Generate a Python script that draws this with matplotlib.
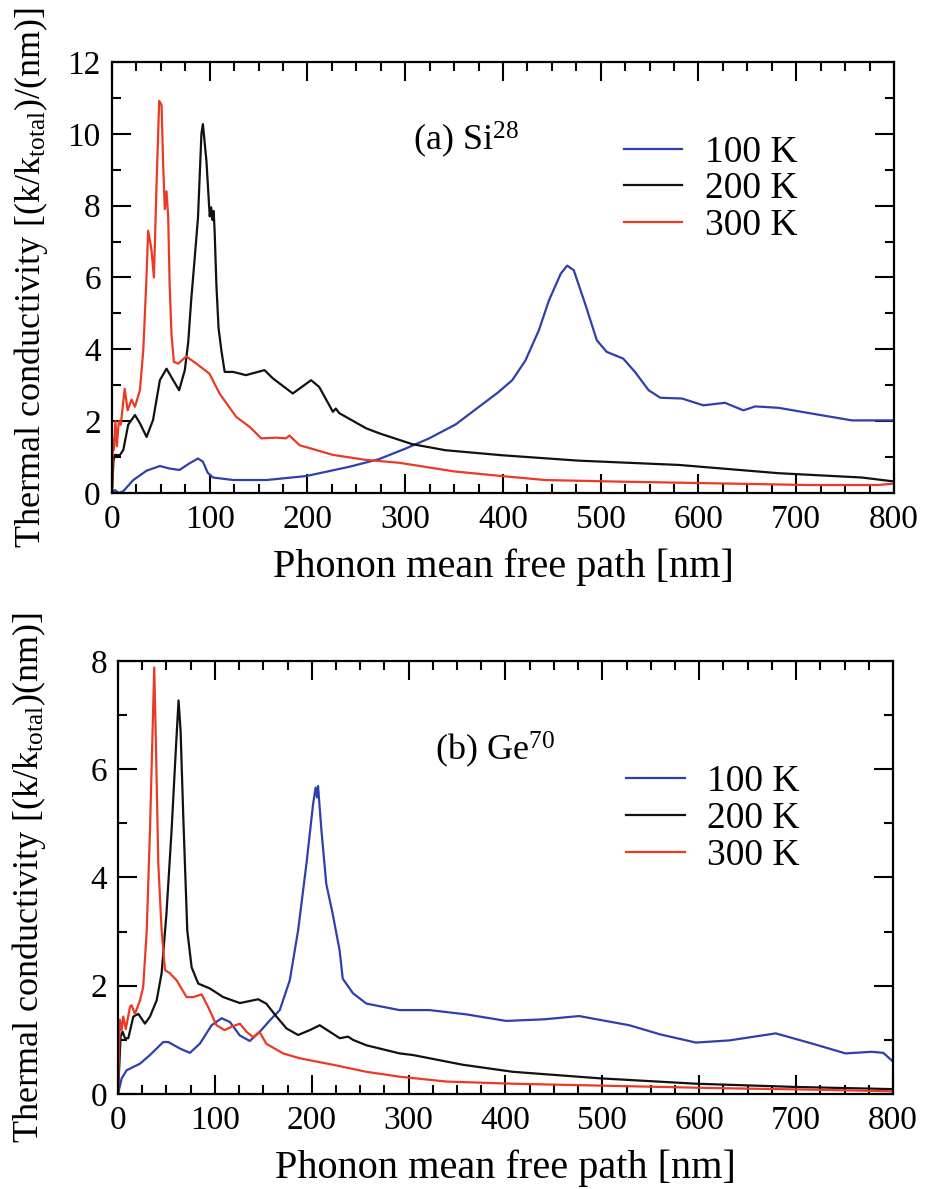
import matplotlib
matplotlib.use("Agg")
import matplotlib.pyplot as plt
from matplotlib.ticker import MultipleLocator

plt.rcParams['font.family'] = ['Liberation Serif', 'DejaVu Serif']
plt.rcParams['mathtext.fontset'] = 'custom'
plt.rcParams['mathtext.rm'] = 'Liberation Serif'
plt.rcParams['mathtext.it'] = 'Liberation Serif:italic'

BLUE = '#2f3fae'
BLACK = '#111111'
RED = '#ea3a24'

# ---- panel (a) Si28 ----
si_100_x = [0, 3, 7, 11.6, 21.8, 35.4, 49, 59, 69, 79, 88, 93, 98, 103.4, 124, 158, 198.6, 243,
            273, 300.7, 324.5, 351.7, 375.5, 395, 409.5, 423, 436.7, 447, 459, 465.6, 472.4, 484, 496,
            506, 523, 535, 549, 561, 583, 605, 627, 646, 658, 682, 716, 757, 800]
si_100_y = [0, 0.08, 0.0, 0.05, 0.36, 0.62, 0.75, 0.68, 0.64, 0.82, 0.96, 0.87, 0.56, 0.43, 0.36, 0.36, 0.47, 0.73,
            0.94, 1.24, 1.52, 1.91, 2.4, 2.8, 3.14, 3.69, 4.53, 5.36, 6.1, 6.33, 6.2, 5.27, 4.25,
            3.93, 3.74, 3.37, 2.86, 2.65, 2.63, 2.44, 2.51, 2.3, 2.41, 2.37, 2.21, 2.02, 2.02]

si_200_x = [0, 1.5, 3, 8, 11.6, 16.6, 23.5, 28.6, 35.4, 42, 49, 55.8, 62.6, 68.7, 74.5, 78, 81, 84.5, 88, 91.5,
            93, 96.6, 100, 101.5, 102.7, 104, 105, 106.8, 109, 111.9, 115.3, 124, 137, 156, 164.6, 185, 203.7,
            212, 226, 229, 232.6, 260, 273.5, 307, 341, 399, 477, 580, 682, 767, 800]
si_200_y = [0, 0.9, 1.06, 1.05, 1.2, 1.9, 2.17, 1.94, 1.56, 2.03, 3.14, 3.46, 3.14, 2.86, 3.42, 4.2, 5.36, 6.5, 7.67, 10.0,
            10.27, 9.25, 7.7, 7.95, 7.6, 7.85, 7.3, 5.8, 4.6, 3.97, 3.37, 3.37, 3.28, 3.42, 3.19, 2.77, 3.14,
            2.95, 2.26, 2.35, 2.22, 1.8, 1.66, 1.36, 1.19, 1.05, 0.9, 0.78, 0.55, 0.43, 0.32]

si_300_x = [0, 1, 2, 3.5, 5, 7, 9, 13, 16, 20, 23.5, 28.6, 32, 35, 37, 39, 40.5, 42.9, 45.6, 48.3,
            50.7, 52.4, 54, 55.8, 57.5, 59, 60.9, 63.3, 67.7, 76, 86.4, 99.7, 110, 127, 140.8, 152.7,
            168, 178, 181.6, 191.8, 226, 260, 294, 350, 399, 443, 511, 613, 715, 783, 800]
si_300_y = [0, 1.5, 1.2, 2.0, 1.3, 2.0, 1.9, 2.9, 2.3, 2.6, 2.4, 2.86, 3.97, 5.8, 7.3, 7.0, 6.75, 6.0, 8.6, 10.92,
            10.8, 9.1, 7.9, 8.4, 7.7, 5.8, 4.4, 3.65, 3.6, 3.8, 3.6, 3.32, 2.77, 2.12, 1.84, 1.52,
            1.54, 1.52, 1.6, 1.33, 1.06, 0.92, 0.84, 0.6, 0.47, 0.36, 0.32, 0.27, 0.22, 0.22, 0.26]

# ---- panel (b) Ge70 ----
ge_100_x = [0, 3.8, 9, 22.7, 33, 46.7, 51.9, 63.9, 74.2, 84.5, 96.6, 106.9, 115.5, 125.8, 136, 146.4,
            156.7, 167, 177.3, 185.9, 194.5, 201.4, 204, 205.5, 206.5, 210, 215, 221.6, 228.8, 232,
            242.6, 256.4, 290.7, 321.6, 360, 400.7, 440, 476, 527.8, 560, 596.6, 631, 679, 716.8, 751,
            778.4, 790, 800]
ge_100_y = [0, 0.29, 0.44, 0.56, 0.72, 0.96, 0.96, 0.84, 0.76, 0.93, 1.27, 1.4, 1.33, 1.08, 0.98, 1.15,
            1.36, 1.55, 2.1, 3.02, 4.25, 5.36, 5.66, 5.48, 5.69, 4.87, 3.88, 3.33, 2.65, 2.13,
            1.86, 1.67, 1.55, 1.55, 1.47, 1.35, 1.38, 1.44, 1.27, 1.1, 0.95, 0.99, 1.12, 0.93, 0.75,
            0.78, 0.76, 0.6]

ge_200_x = [0, 2.7, 4.8, 7.2, 10.6, 15.8, 21, 27.8, 33, 39.9, 45, 50, 55.3, 59.8, 62.5, 64.6, 67.4, 71.5,
            76, 82.8, 94.8, 108.6, 125.8, 144.7, 153, 163.6, 174, 185.9, 198, 208.2, 218.6, 229,
            237.5, 242.6, 256.4, 290.7, 304.5, 356, 407.6, 497, 596.6, 699.7, 800]
ge_200_y = [0, 1.06, 1.15, 1.03, 1.03, 1.43, 1.48, 1.3, 1.43, 1.73, 2.23, 3.33, 4.87, 6.4, 7.27, 6.71, 5.11, 3.02,
            2.34, 2.04, 1.95, 1.79, 1.68, 1.75, 1.67, 1.43, 1.21, 1.09, 1.18, 1.27, 1.15, 1.03,
            1.06, 1.0, 0.9, 0.75, 0.72, 0.54, 0.41, 0.29, 0.19, 0.13, 0.09]

ge_300_x = [0, 1.9, 3.7, 5.4, 8, 12.4, 14, 17.5, 22.7, 26, 29.6, 33, 35.7, 37.4, 39, 41.6, 45, 48.5,
            53.6, 60.5, 70.8, 77.7, 86.3, 93, 101.7, 110, 117, 125.8, 132.6, 139.5, 146, 153, 170.4,
            187.6, 222, 256.4, 290.7, 339, 407.6, 510.6, 613.7, 716.8, 800]
ge_300_y = [0, 1.37, 1.18, 1.43, 1.2, 1.61, 1.64, 1.48, 1.73, 1.98, 3.0, 4.87, 6.71, 7.88, 6.59, 4.25, 3.03, 2.29,
            2.23, 2.1, 1.79, 1.79, 1.84, 1.61, 1.27, 1.18, 1.24, 1.3, 1.15, 1.05, 1.15, 0.93, 0.75,
            0.66, 0.54, 0.41, 0.32, 0.23, 0.19, 0.15, 0.11, 0.08, 0.05]

labels = ['100 K', '200 K', '300 K']
colors = [BLUE, BLACK, RED]


def style_axes(ax, ymax):
    ax.set_xlim(0, 800)
    ax.set_ylim(0, ymax)
    ax.xaxis.set_major_locator(MultipleLocator(100))
    ax.xaxis.set_minor_locator(MultipleLocator(25))
    ax.yaxis.set_major_locator(MultipleLocator(2))
    ax.yaxis.set_minor_locator(MultipleLocator(1))
    ax.tick_params(which='both', direction='in', top=True, right=True, width=1.5, labelsize=24)
    ax.tick_params(which='major', length=13.5, pad=8)
    ax.tick_params(which='minor', length=6.5)
    for s in ax.spines.values():
        s.set_linewidth(1.6)
    ax.set_xlabel('Phonon mean free path [nm]', fontsize=29, labelpad=10)


fig = plt.figure(figsize=(9.27, 11.89), dpi=100)
ax1 = fig.add_axes([0.1208, 0.5854, 0.8436, 0.3625])
ax2 = fig.add_axes([0.1273, 0.0799, 0.836, 0.3642])

for xs, ys, c, lab in zip([si_100_x, si_200_x, si_300_x], [si_100_y, si_200_y, si_300_y], colors, labels):
    ax1.plot(xs, ys, color=c, lw=1.6, label=lab)
style_axes(ax1, 12)
ax1.set_ylabel(r'Thermal conductivity [(k/k$_{\mathrm{total}}$)/(nm)]', fontsize=26)
ax1.yaxis.set_label_coords(-0.079, 0.5)
ax1.text(0.385, 0.796, r'(a) Si$^{28}$', transform=ax1.transAxes, fontsize=26)
ax1.legend(loc='upper left', bbox_to_anchor=(0.655, 0.83), frameon=False, fontsize=27,
           handlelength=1.55, handletextpad=0.6, labelspacing=0.06, borderpad=0, borderaxespad=0)

for xs, ys, c, lab in zip([ge_100_x, ge_200_x, ge_300_x], [ge_100_y, ge_200_y, ge_300_y], colors, labels):
    ax2.plot(xs, ys, color=c, lw=1.6, label=lab)
style_axes(ax2, 8)
ax2.set_ylabel(r'Thermal conductivity [(k/k$_{\mathrm{total}}$)(nm)]', fontsize=26)
ax2.yaxis.set_label_coords(-0.090, 0.5)
ax2.text(0.409, 0.771, r'(b) Ge$^{70}$', transform=ax2.transAxes, fontsize=26)
ax2.legend(loc='upper left', bbox_to_anchor=(0.656, 0.76), frameon=False, fontsize=27,
           handlelength=1.55, handletextpad=0.6, labelspacing=0.06, borderpad=0, borderaxespad=0)

fig.savefig('out.png', dpi=100)
